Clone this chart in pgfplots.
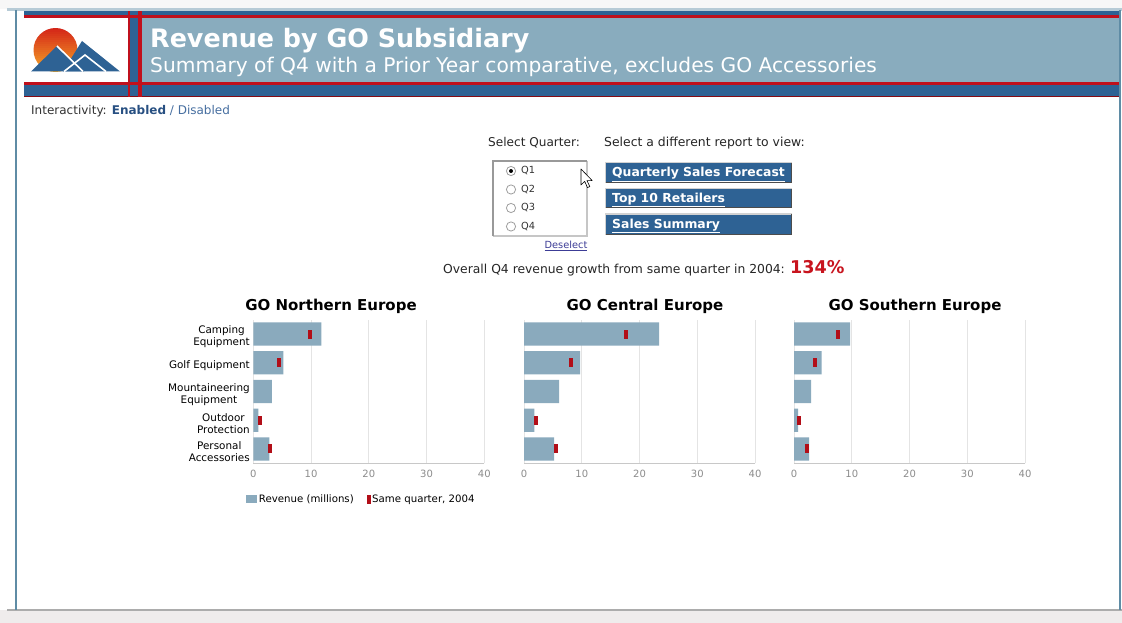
\documentclass[border=0pt]{standalone}
\usepackage{fontspec}
\setmainfont{DejaVu Sans}
\usepackage{pgfplots}
\pgfplotsset{compat=1.18}
\definecolor{hdrblue}{RGB}{137,172,190}
\definecolor{dkblue}{RGB}{46,98,148}
\definecolor{hdrred}{RGB}{192,16,28}
\definecolor{barcol}{RGB}{138,170,189}
\definecolor{markred}{RGB}{178,14,24}
\definecolor{gridgray}{RGB}{228,228,228}
\definecolor{axgray}{RGB}{200,200,200}
\definecolor{tickgray}{RGB}{140,140,140}
\definecolor{frameline}{RGB}{95,140,165}
\definecolor{linkblue}{RGB}{60,60,150}
\definecolor{enblue}{RGB}{40,80,130}
\definecolor{disblue}{RGB}{70,110,160}
\definecolor{growthred}{RGB}{200,20,30}
\definecolor{sunTop}{RGB}{212,38,24}
\definecolor{sunBot}{RGB}{247,172,40}
\definecolor{bottomgray}{RGB}{239,236,236}
\newcommand{\fs}[1]{\fontsize{#1}{#1}\selectfont}

\pgfplotsset{
  regax/.style={
    scale only axis, width=231pt, height=143.6pt,
    anchor=south west,
    xmin=0, xmax=40, ymin=0.5, ymax=5.5,
    xtick={0,10,20,30,40}, ytick={1,2,3,4,5},
    xmajorgrids, grid style={draw=gridgray, line width=0.8pt},
    axis x line*=bottom, axis y line*=left,
    x axis line style={draw=axgray, line width=1pt, -},
    y axis line style={draw=none},
    major tick length=0pt,
    /pgf/number format/assume math mode=true,
    xticklabel style={font=\fs{10}, text=tickgray, yshift=-3.5pt},
    yticklabel style={font=\fontsize{10.4}{12}\selectfont, align=center, text=black, yshift=-3pt},
    clip=false,
  },
  revbar/.style={xbar, bar width=0.81, fill=barcol, draw=none,
    legend image code/.code={\fill[barcol] (0pt,-3.8pt) rectangle (10.7pt,3.8pt);}},
  prior/.style={only marks, color=markred, mark=square*, mark size=4pt,
    mark options={fill=markred, draw=markred, line width=0pt, xscale=0.38},
    legend image code/.code={\fill[markred] (0pt,-4pt) rectangle (3pt,4pt);}},
}

\begin{document}
\begin{tikzpicture}
\begin{scope}[x=1pt,y=-1pt,yshift=623pt]
\path[use as bounding box] (0,0) rectangle (1122,623);
\fill[white] (0,0) rectangle (1122,623);
% browser chrome and frame
\fill[gray!6] (0,0) rectangle (1122,9);
\fill[frameline!45] (7,8.5) rectangle (1122,11);
\fill[bottomgray] (0,610) rectangle (1122,623);
\draw[gray!65, line width=1.2pt] (7,610) -- (1122,610);
\fill[frameline] (15,10) rectangle (16.6,610);
\fill[frameline] (1119.4,10) rectangle (1121,610);
% header
\fill[dkblue] (24,11) rectangle (1119,97);
\fill[white] (24,18) rectangle (128,82);
\fill[hdrblue] (142,18) rectangle (1119,82);
\fill[hdrred] (24,15) rectangle (1119,18);
\fill[hdrred] (24,82) rectangle (1119,85);
\fill[hdrred!70!black] (24,96) rectangle (1119,97.5);
\fill[hdrred] (128,11) rectangle (130,97.5);
\fill[hdrred] (138,11) rectangle (142,97.5);
% logo
\begin{scope}
\clip (55.5,50) circle (22);
\foreach \i in {0,...,22} {
  \pgfmathsetmacro\p{100-\i*100/22}
  \fill[sunTop!\p!sunBot] (30,{28+\i*2}) rectangle (82,{30.3+\i*2});
}
\end{scope}
\fill[dkblue] (63,71.5) -- (82,41) -- (120,71.5) -- cycle;
\fill[dkblue] (31,71.5) -- (57,46) -- (84,71.5) -- cycle;
\draw[white, line width=1.6pt] (57,46) -- (83,71.5);
\draw[white, line width=1.6pt] (64,71.5) -- (85,55) -- (106,71.5);
% header text
\node[anchor=base west, text=white, inner sep=0] at (150,48) {\fs{25.4}\bfseries Revenue by GO Subsidiary};
\node[anchor=base west, text=white, inner sep=0] at (150,73) {\fs{20.2}Summary of Q4 with a Prior Year comparative, excludes GO Accessories};
% interactivity
\node[anchor=base west, inner sep=0] at (31,115) {\fs{12}\textcolor{black!80}{Interactivity:} \textcolor{enblue}{\bfseries Enabled} \textcolor{disblue}{/ Disabled}};
% selectors
\node[anchor=base west, inner sep=0] at (488,147) {\fs{12.1}\textcolor{black!85}{Select Quarter:}};
\node[anchor=base west, inner sep=0] at (604,147) {\fs{12.4}\textcolor{black!85}{Select a different report to view:}};
\fill[white] (492,160) rectangle (588,237);
\draw[gray!45, line width=1.6pt] (492.8,236.2) -- (587.2,236.2) -- (587.2,160.8);
\draw[gray!80, line width=2pt] (493,236.2) -- (493,161) -- (587.2,161);
\foreach \yy/\lab in {171/Q1,189.5/Q2,208/Q3,226.5/Q4} {
  \draw[gray!75, line width=0.8pt, fill=white] (511,\yy) circle (4.6);
  \node[anchor=west, inner sep=0] at (521,\yy) {\fs{9.8}\textcolor{black!80}{\lab}};
}
\fill[black] (511,171) circle (2);
\node[anchor=base, inner sep=0, text=linkblue] at (566,248.5) {\fs{9.8}\underline{Deselect}};
% cursor
\draw[black, fill=white, line width=0.6pt, line join=round] (581,169) -- ++(0,16) -- ++(3.7,-3.6) -- ++(2.8,6.2) -- ++(2.3,-1) -- ++(-2.8,-6) -- ++(5.2,0) -- cycle;
% buttons
\foreach \ya/\yb/\txt in {162/183/Quarterly Sales Forecast, 188/208.5/Top 10 Retailers, 213.5/235/Sales Summary} {
  \fill[dkblue] (605,\ya) rectangle (792,\yb);
  \draw[gray!35, line width=1.4pt] (605.7,\yb) -- (605.7,\ya+0.7) -- (792,\ya+0.7);
  \draw[black!70, line width=1.4pt] (605.7,\yb-0.7) -- (791.3,\yb-0.7) -- (791.3,\ya+0.7);
  \node[anchor=base west, text=white, inner sep=0] at (612,{(\ya+\yb)/2+4.3}) {\fs{12.4}\bfseries\underline{\txt}};
}
% growth
\node[anchor=base west, inner sep=0] at (443,273.5) {\fs{12.35}\textcolor{black!85}{Overall Q4 revenue growth from same quarter in 2004:} \textcolor{growthred}{\fs{17.6}\bfseries 134\%}};
% chart titles
\node[anchor=base, inner sep=0] at (331,311) {\fs{15}\bfseries GO Northern Europe};
\node[anchor=base, inner sep=0] at (645,311) {\fs{15}\bfseries GO Central Europe};
\node[anchor=base, inner sep=0] at (915,311) {\fs{15}\bfseries GO Southern Europe};
\end{scope}

% Northern Europe
\begin{axis}[regax, at={(253.3pt,159.7pt)},
  yticklabels={Personal\\Accessories, Outdoor\\Protection, Mountaineering\\Equipment, Golf Equipment, Camping\\Equipment},
  legend style={at={(0.468,-0.249)}, anchor=center, draw=none, fill=none, font=\fs{10.2}, legend columns=2,
    /tikz/every even column/.append style={column sep=11pt}},
]
\addplot[revbar] coordinates {(11.8,5) (5.2,4) (3.2,3) (0.9,2) (2.8,1)};
\addlegendentry{Revenue (millions)}
\addplot[prior] coordinates {(9.9,5) (4.4,4) (1.1,2) (2.9,1)};
\addlegendentry{Same quarter, 2004}
\end{axis}

% Central Europe
\begin{axis}[regax, at={(524pt,159.7pt)}, yticklabels={}]
\addplot[revbar] coordinates {(23.4,5) (9.7,4) (6.1,3) (1.8,2) (5.2,1)};
\addplot[prior] coordinates {(17.7,5) (8.2,4) (2.0,2) (5.5,1)};
\end{axis}

% Southern Europe
\begin{axis}[regax, at={(794pt,159.7pt)}, yticklabels={}]
\addplot[revbar] coordinates {(9.7,5) (4.8,4) (2.95,3) (0.7,2) (2.6,1)};
\addplot[prior] coordinates {(7.6,5) (3.7,4) (0.9,2) (2.3,1)};
\end{axis}
\end{tikzpicture}
\end{document}
